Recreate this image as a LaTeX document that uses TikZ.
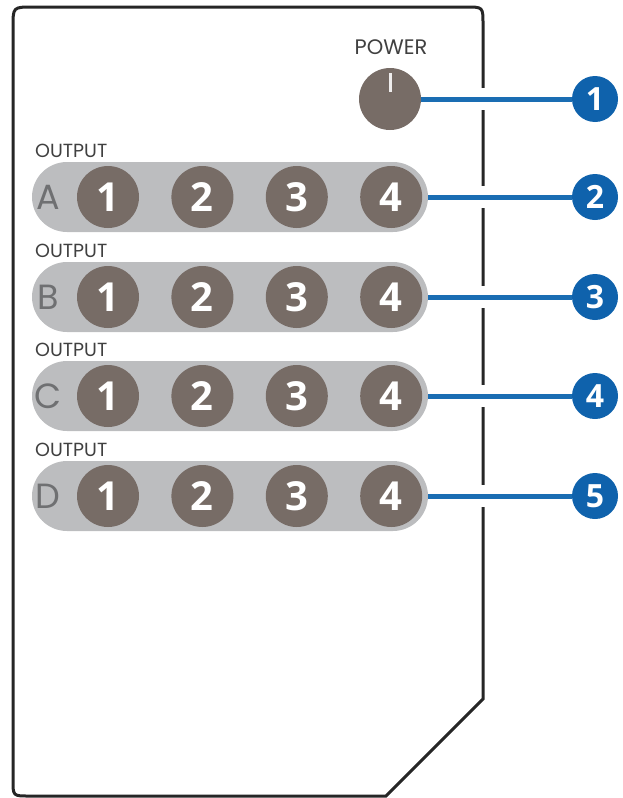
\documentclass[tikz,border=0pt]{standalone}
\usepackage{fontspec}
\setmainfont{Open Sans}
\newfontfamily\geo{Poppins}
\usetikzlibrary{positioning}
\definecolor{keybrown}{HTML}{776C66}
\definecolor{stripgray}{HTML}{BCBDBF}
\definecolor{lettergray}{HTML}{6F7072}
\definecolor{leadblue}{HTML}{1A6DB3}
\definecolor{callblue}{HTML}{0F62AC}
\tikzset{
    shell/.style={draw=black!85,line width=3pt},
    key/.style={circle,fill=keybrown,minimum size=62pt,inner sep=0pt,text=white,
        font=\fontsize{40}{40}\selectfont\bfseries},
    strip/.style={fill=stripgray,rounded corners=35pt,minimum width=396pt,minimum height=70pt},
    letter/.style={text=lettergray,font=\geo\fontsize{35}{35}\selectfont},
    caption/.style={text=black!75,inner sep=0pt,font=\geo\fontsize{19}{19}\selectfont},
    callout/.style={circle,fill=callblue,minimum size=46pt,inner sep=0pt,text=white,
        font=\fontsize{32}{32}\selectfont\bfseries},
    lead/.style={draw=leadblue,line width=5pt,
        preaction={draw=white,line width=22pt,shorten <=#1,shorten >=82pt}},
    lead/.default=48pt
}

\begin{document}
\begin{tikzpicture}[x=1pt,y=-1pt]

                \useasboundingbox (0,0) rectangle (622,798);

                % remote body
                \draw[shell] (13,27) .. controls (13,7) .. (33,7) -- (466,7)
                    .. controls (483,7) .. (483,24) -- (483,699) -- (386,796)
                    -- (29,796) .. controls (13,796) .. (13,780) -- cycle;

                % power
                \node[caption,font=\geo\fontsize{21}{21}\selectfont] (power label) at (391,47) {POWER};
                \node[key] (power) at (390,99) {};
                \draw[white!88!keybrown,line width=3pt] (power.center) ++(0,-26) coordinate (tick top)
                    (tick top) -- ++(0,19);
                \node[callout] (call 1) at (595,99) {1};
                \draw[lead=55pt] (power) -- (call 1);

                % output A
                \node[caption,anchor=south west] (out A) at (35,158) {OUTPUT};
                \node[strip]  (strip A) at (230,197) {};
                \node[letter] (letter A) at (48,197) {A};
                \node[key]    (A 1) at (108,197) {1};
                \node[key]    (A 2) [right=32pt of A 1] {2};
                \node[key]    (A 3) [right=32pt of A 2] {3};
                \node[key]    (A 4) [right=32pt of A 3] {4};
                \node[callout] (call 2) at (595,197) {2};
                \draw[lead] (strip A) -- (call 2);

                % output B
                \node[caption,anchor=south west] (out B) at (35,258) {OUTPUT};
                \node[strip]  (strip B) at (230,297) {};
                \node[letter] (letter B) at (48,297) {B};
                \node[key]    (B 1) at (108,297) {1};
                \node[key]    (B 2) [right=32pt of B 1] {2};
                \node[key]    (B 3) [right=32pt of B 2] {3};
                \node[key]    (B 4) [right=32pt of B 3] {4};
                \node[callout] (call 3) at (595,297) {3};
                \draw[lead] (strip B) -- (call 3);

                % output C
                \node[caption,anchor=south west] (out C) at (35,357) {OUTPUT};
                \node[strip]  (strip C) at (230,396) {};
                \node[letter] (letter C) at (48,396) {C};
                \node[key]    (C 1) at (108,396) {1};
                \node[key]    (C 2) [right=32pt of C 1] {2};
                \node[key]    (C 3) [right=32pt of C 2] {3};
                \node[key]    (C 4) [right=32pt of C 3] {4};
                \node[callout] (call 4) at (595,396) {4};
                \draw[lead] (strip C) -- (call 4);

                % output D
                \node[caption,anchor=south west] (out D) at (35,457) {OUTPUT};
                \node[strip]  (strip D) at (230,496) {};
                \node[letter] (letter D) at (48,496) {D};
                \node[key]    (D 1) at (108,496) {1};
                \node[key]    (D 2) [right=32pt of D 1] {2};
                \node[key]    (D 3) [right=32pt of D 2] {3};
                \node[key]    (D 4) [right=32pt of D 3] {4};
                \node[callout] (call 5) at (595,496) {5};
                \draw[lead] (strip D) -- (call 5);

            \end{tikzpicture}
\end{document}
